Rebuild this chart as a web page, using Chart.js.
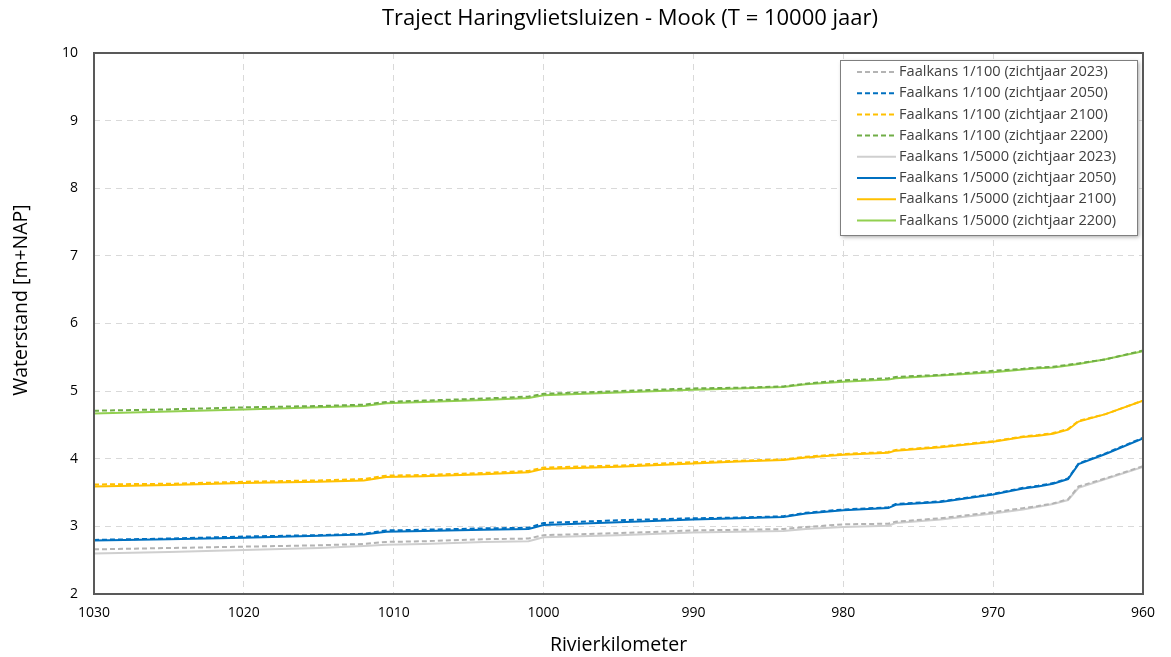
<!DOCTYPE html>
<html>
<head>
<meta charset="utf-8">
<script src="https://cdn.jsdelivr.net/npm/chart.js@4/dist/chart.umd.min.js"></script>
<style>
  html, body { margin: 0; padding: 0; background: #fff; }
  #wrap { width: 1171px; height: 657px; position: relative; }
</style>
</head>
<body>
<div id="wrap"><canvas id="c"></canvas></div>
<script>
// Waterstand langs traject Haringvlietsluizen - Mook, T = 10000 jaar
var km = [1030, 1025, 1020, 1015, 1012, 1010.5, 1008, 1004, 1001, 1000, 995, 990, 987, 984, 982.5,
          980, 977, 976.5, 973.5, 970, 968, 967, 966, 965, 964.3, 962.5, 960];

var p100_2023 = [2.66, 2.68, 2.70, 2.72, 2.74, 2.77, 2.78, 2.81, 2.82, 2.87, 2.90, 2.94, 2.95, 2.96, 2.99,
                 3.03, 3.04, 3.07, 3.12, 3.21, 3.27, 3.30, 3.34, 3.40, 3.59, 3.71, 3.89];
var p100_2050 = [2.80, 2.82, 2.85, 2.87, 2.89, 2.94, 2.95, 2.97, 2.98, 3.05, 3.09, 3.12, 3.13, 3.15, 3.20,
                 3.25, 3.28, 3.33, 3.37, 3.48, 3.57, 3.60, 3.64, 3.71, 3.93, 4.08, 4.31];
var p100_2100 = [3.62, 3.63, 3.66, 3.68, 3.70, 3.75, 3.76, 3.79, 3.82, 3.87, 3.90, 3.95, 3.97, 3.99, 4.03,
                 4.07, 4.10, 4.13, 4.18, 4.26, 4.33, 4.35, 4.38, 4.44, 4.56, 4.66, 4.86];
var p100_2200 = [4.71, 4.73, 4.76, 4.78, 4.80, 4.84, 4.86, 4.89, 4.92, 4.96, 5.00, 5.04, 5.05, 5.07, 5.11,
                 5.16, 5.19, 5.21, 5.24, 5.30, 5.33, 5.35, 5.36, 5.39, 5.41, 5.47, 5.60];
var p5000_2023 = [2.60, 2.62, 2.65, 2.68, 2.71, 2.73, 2.74, 2.77, 2.78, 2.84, 2.87, 2.91, 2.92, 2.93, 2.96,
                  2.99, 3.01, 3.05, 3.10, 3.19, 3.25, 3.29, 3.33, 3.39, 3.57, 3.70, 3.88];
var p5000_2050 = [2.79, 2.81, 2.83, 2.86, 2.88, 2.92, 2.93, 2.95, 2.96, 3.02, 3.06, 3.10, 3.12, 3.14, 3.19,
                  3.24, 3.27, 3.32, 3.36, 3.47, 3.56, 3.59, 3.63, 3.70, 3.92, 4.07, 4.30];
var p5000_2100 = [3.59, 3.61, 3.64, 3.66, 3.68, 3.73, 3.74, 3.77, 3.80, 3.85, 3.88, 3.93, 3.96, 3.98, 4.02,
                  4.06, 4.09, 4.12, 4.17, 4.25, 4.32, 4.34, 4.37, 4.43, 4.55, 4.66, 4.86];
var p5000_2200 = [4.67, 4.70, 4.73, 4.76, 4.78, 4.82, 4.84, 4.87, 4.90, 4.94, 4.98, 5.02, 5.04, 5.06, 5.10,
                  5.14, 5.17, 5.19, 5.23, 5.28, 5.32, 5.34, 5.35, 5.38, 5.40, 5.47, 5.59];

var chartTitle = 'Traject Haringvlietsluizen - Mook (T = 10000 jaar)';
var xTitle = 'Rivierkilometer';
var yTitle = 'Waterstand [m+NAP]';

var FONT = "'Open Sans', 'Noto Sans', sans-serif";

function pts(vals) {
  return km.map(function (k, i) { return { x: k, y: vals[i] }; });
}

function series(label, vals, color, dashed) {
  return {
    label: label,
    data: pts(vals),
    borderColor: color,
    backgroundColor: color,
    borderWidth: 2,
    borderDash: dashed ? [5, 3] : [],
    pointRadius: 0,
    tension: 0,
    fill: false
  };
}

var datasets = [
  series('Faalkans 1/100 (zichtjaar 2023)', p100_2023, '#b4b4b4', true),
  series('Faalkans 1/100 (zichtjaar 2050)', p100_2050, '#0070c0', true),
  series('Faalkans 1/100 (zichtjaar 2100)', p100_2100, '#ffc000', true),
  series('Faalkans 1/100 (zichtjaar 2200)', p100_2200, '#70ad47', true),
  series('Faalkans 1/5000 (zichtjaar 2023)', p5000_2023, '#cfcfcf', false),
  series('Faalkans 1/5000 (zichtjaar 2050)', p5000_2050, '#0070c0', false),
  series('Faalkans 1/5000 (zichtjaar 2100)', p5000_2100, '#ffc000', false),
  series('Faalkans 1/5000 (zichtjaar 2200)', p5000_2200, '#92d050', false)
];

// frame, titles and legend box drawn on the canvas
var decorPlugin = {
  id: 'decor',
  afterDraw: function (chart) {
    var ctx = chart.ctx, a = chart.chartArea;
    ctx.save();
    // plot frame
    ctx.strokeStyle = '#595959';
    ctx.lineWidth = 2;
    ctx.setLineDash([]);
    ctx.strokeRect(a.left, a.top, a.right - a.left, a.bottom - a.top);

    // title
    ctx.fillStyle = '#000';
    ctx.font = '22px ' + FONT;
    ctx.textAlign = 'center';
    ctx.textBaseline = 'middle';
    ctx.fillText(chartTitle, 630, 19);

    // y axis title
    ctx.save();
    ctx.translate(21, 300);
    ctx.rotate(-Math.PI / 2);
    ctx.font = '19.5px ' + FONT;
    ctx.fillText(yTitle, 0, 0);
    ctx.restore();

    // legend
    var lx = 840, ly = 60, lw = 297, lh = 175;
    ctx.shadowColor = 'rgba(0,0,0,0.35)';
    ctx.shadowBlur = 4;
    ctx.shadowOffsetX = 2;
    ctx.shadowOffsetY = 2;
    ctx.fillStyle = '#fff';
    ctx.fillRect(lx, ly, lw, lh);
    ctx.shadowColor = 'transparent';
    ctx.strokeStyle = '#7f7f7f';
    ctx.lineWidth = 1;
    ctx.strokeRect(lx + 0.5, ly + 0.5, lw, lh);

    ctx.font = '14.6px ' + FONT;
    ctx.textAlign = 'left';
    chart.data.datasets.forEach(function (ds, i) {
      var y = ly + 12 + i * 21.2;
      ctx.strokeStyle = ds.borderColor;
      ctx.lineWidth = 2;
      ctx.setLineDash(ds.borderDash);
      ctx.beginPath();
      ctx.moveTo(lx + 17, y);
      ctx.lineTo(lx + 56, y);
      ctx.stroke();
      ctx.setLineDash([]);
      ctx.fillStyle = '#404040';
      ctx.fillText(ds.label, lx + 59, y);
    });
    ctx.restore();
  }
};

new Chart(document.getElementById('c').getContext('2d'), {
  type: 'line',
  data: { datasets: datasets },
  options: {
    responsive: true,
    maintainAspectRatio: false,
    animation: false,
    layout: { padding: { top: 53, right: 28, left: 0, bottom: 0 } },
    plugins: {
      legend: { display: false },
      title: { display: false },
      tooltip: { enabled: false }
    },
    scales: {
      x: {
        type: 'linear',
        reverse: true,
        min: 960,
        max: 1030,
        ticks: {
          stepSize: 10,
          color: '#000',
          font: { family: FONT, size: 14 },
          padding: 11,
          maxRotation: 0,
          callback: function (v) { return String(v); }
        },
        grid: { color: '#d9d9d9', tickLength: 0 },
        border: { display: false, dash: [6, 5] },
        title: {
          display: true,
          text: xTitle,
          color: '#000',
          font: { family: FONT, size: 19.5 },
          padding: { top: 4, bottom: 0 }
        },
        afterFit: function (s) { s.height = 63; }
      },
      y: {
        min: 2,
        max: 10,
        ticks: {
          stepSize: 1,
          color: '#000',
          font: { family: FONT, size: 14 },
          padding: 16,
          callback: function (v) { return String(v); }
        },
        grid: { color: '#d9d9d9', tickLength: 0 },
        border: { display: false, dash: [6, 5] },
        afterFit: function (s) { s.width = 94; }
      }
    }
  },
  plugins: [decorPlugin]
});
</script>
</body>
</html>
